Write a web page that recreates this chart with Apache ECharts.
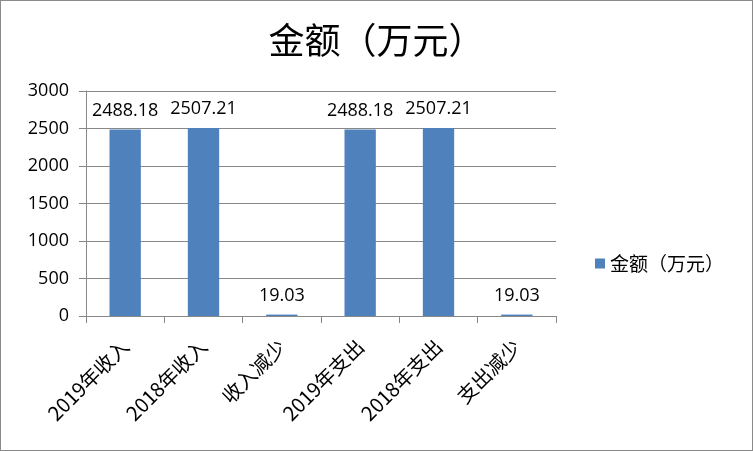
<!DOCTYPE html>
<html><head><meta charset="utf-8">
<script src="https://cdn.jsdelivr.net/npm/echarts@6/dist/echarts.min.js"></script>
<style>
html,body{margin:0;padding:0;background:#fff;}
#c{position:absolute;left:0;top:0;width:751px;height:449px;border:1px solid #8a8a8a;}
</style></head><body>
<div id="c"></div>
<script>
const categories = ['2019年收入','2018年收入','收入减少','2019年支出','2018年支出','支出减少'];
const values = [2488.18, 2507.21, 19.03, 2488.18, 2507.21, 19.03];
const seriesName = '金额（万元）';
const yTicks = {min:0, max:3000, interval:500};

const chart = echarts.init(document.getElementById('c'));
chart.setOption({
  animation:false,
  title:{text:'金额（万元）',left:'center',top:16,textStyle:{fontFamily:'Noto Sans CJK SC',fontSize:36,fontWeight:'normal',color:'#000'}},
  legend:{data:[seriesName],orient:'vertical',left:589,top:248,itemWidth:10,itemHeight:10,itemGap:0,icon:'rect',
    textStyle:{fontFamily:'Noto Sans CJK SC',fontSize:19,color:'#000'}},
  grid:{left:85,right:196,top:90,bottom:134,containLabel:false},
  xAxis:{type:'category',data:categories,
    axisLine:{lineStyle:{color:'#888'}},
    axisTick:{show:true,length:7,alignWithLabel:false,lineStyle:{color:'#888'}},
    axisLabel:{rotate:45,fontFamily:'Noto Sans CJK SC',fontSize:20,color:'#000',margin:27,interval:0}},
  yAxis:{type:'value',min:yTicks.min,max:yTicks.max,interval:yTicks.interval,
    axisLine:{show:true,lineStyle:{color:'#888'}},
    axisTick:{show:true,length:7,lineStyle:{color:'#888'}},
    splitLine:{lineStyle:{color:'#888'}},
    axisLabel:{fontFamily:'Open Sans',fontSize:18,color:'#000',margin:17,formatter:v=>String(v)}},
  series:[{name:seriesName,type:'bar',data:values,barWidth:'40%',
    itemStyle:{color:'#4F81BD'},
    label:{show:true,position:'top',distance:10,fontFamily:'Open Sans',fontSize:18,color:'#000'}}]
});
</script></body></html>
